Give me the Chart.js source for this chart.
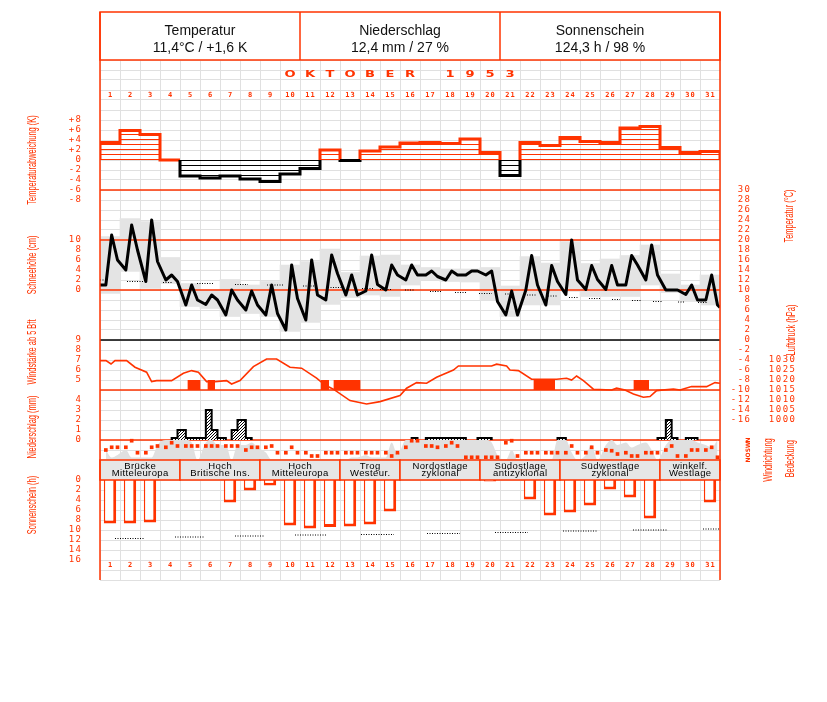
<!DOCTYPE html>
<html lang="de">
<head>
<meta charset="utf-8">
<title>Oktober 1953</title>
<script src="https://cdn.jsdelivr.net/npm/chart.js@4.4.1/dist/chart.umd.min.js"></script>
<style>
  html, body { margin: 0; padding: 0; background: #fff; }
  #wrap { position: relative; width: 827px; height: 702px; }
</style>
</head>
<body>
<div id="wrap"><canvas id="chart" width="827" height="702"></canvas></div>
<script>
const RED = '#ff3300';

// --- data ----------------------------------------------------------------
const days = ['1','2','3','4','5','6','7','8','9','10','11','12','13','14','15','16',
              '17','18','19','20','21','22','23','24','25','26','27','28','29','30','31'];
const obsHours = [7, 14, 21];

// Tagesmittel-Abweichung (K)
const devK = [3.5, 5.9, 5.1, 0, -3.2, -3.6, -3.2, -3.8, -4.3, -2.8, -1.7, 2.0, -0.1, 1.8, 2.6, 3.4,
              3.5, 3.3, 4.2, 1.5, -3.1, 3.5, 2.9, 4.5, 3.7, 3.5, 6.4, 6.7, 2.5, 1.5, 1.7];

// Temperatur (°C) zu den Terminen 7, 14, 21 Uhr
const temp07 = [11, 14, 11.7, 12, 7, 7.1, 5, 6, 5, 2, 4, 8, 9, 9.8, 10, 12,
                13, 12, 13, 13, 5, 10, 7, 9.1, 10.1, 10.1, 11, 12, 10, 9.1, 8];
const temp14 = [21, 23, 24, 13, 11, 9, 10, 9.8, 11, 15, 16, 17, 13, 17, 15, 15,
                13.8, 13.8, 13.8, 13.8, 9.8, 16.9, 14.9, 20, 14.9, 14.9, 16.9, 19, 10, 11, 13];
const temp21 = [16, 18, 15.7, 11.7, 8, 8, 8, 7, 5.3, 8.3, 9, 13.3, 9, 11.1, 13, 13,
                12.7, 13, 13.8, 7.7, 5, 11, 11.7, 12, 12.1, 11, 15, 13, 10, 8, 7];
const tempFirst = 11, tempLast = 6.5;

// Tagesminimum / -maximum (°C)
const tMin = [9.3, 13.7, 10.3, 11.3, 6.7, 6.3, 4.7, 5.3, 4.7, 1.7, 3.5, 7.1, 8.5, 9.0, 8.7, 11.0,
              12.0, 11.7, 11.6, 8.0, 4.7, 7.0, 7.0, 9.7, 8.7, 8.7, 8.7, 11.0, 9.5, 7.7, 7.0];
const tMax = [20.7, 24.3, 23.7, 16.5, 11.3, 10.0, 12.1, 11.0, 11.7, 15.0, 15.7, 18.2, 13.5, 16.8, 17.0, 15.0,
              14.5, 14.2, 14.2, 14.5, 10.8, 16.7, 15.4, 19.7, 15.3, 16.2, 16.9, 19.0, 13.2, 11.0, 13.0];

// Normalwerte Temperatur (Abschnitte)
const tNormFrom = [0, 1.35, 3.15, 4.85, 6.75, 8.35, 10.15, 11.4, 13.1, 14.0, 15.25, 16.5,
                   17.75, 18.95, 20.25, 21.35, 22.4, 23.45, 24.45, 25.6, 26.6, 27.65, 28.9, 29.9];
const tNormTo   = [0.25, 2.15, 3.65, 5.65, 7.4, 9.15, 10.85, 12.15, 13.65, 14.6, 15.75, 17.1,
                   18.35, 19.6, 20.75, 21.85, 22.9, 23.9, 25.0, 26.0, 27.1, 28.1, 29.25, 30.4];
const tNormVal  = [12.0, 11.7, 11.5, 11.3, 11.1, 11.0, 10.8, 10.5, 10.3, 10.1, 10.0, 9.7,
                   9.5, 9.3, 9.2, 9.0, 8.8, 8.5, 8.3, 8.1, 7.9, 7.7, 7.6, 7.5];

// Wind ab 5 Bft (Zeitabschnitte in Tagen)
const windFrom = [4.37, 5.37, 11.03, 11.67, 21.67, 26.67];
const windTo   = [5.03, 5.75, 11.45, 13.03, 22.75, 27.45];

// Luftdruck (hPa)
const pressT = [0, 0.3, 0.55, 0.75, 1.33, 1.75, 2.33, 2.58, 2.83, 3.58, 4.17, 4.58, 4.92, 5.33, 5.75,
                6.33, 6.58, 7.0, 7.67, 8.33, 8.83, 9.5, 10.08, 10.83, 11.25, 11.67, 12.5, 13.33, 14.0,
                15.0, 15.33, 15.83, 16.33, 16.83, 17.67, 17.92, 19.58, 19.83, 20.33, 20.5, 20.92, 21.58,
                22.83, 23.33, 23.58, 23.83, 24.17, 24.67, 25.58, 25.83, 26.25, 26.67, 27.17, 27.5, 27.83,
                28.67, 29.0, 29.58, 30.33, 30.75, 31];
const pressHpa = [1029.7, 1029.7, 1028, 1029.7, 1029.7, 1026.4, 1023.9, 1019.2, 1019.7, 1019.7, 1023.4,
                  1024.7, 1023.9, 1019.2, 1019.2, 1019.7, 1018, 1019.7, 1026.7, 1030.5, 1030.5, 1026.4,
                  1025.9, 1020.9, 1017.5, 1015.4, 1009.7, 1008, 1009.2, 1012.2, 1015.9, 1018.7, 1018.4,
                  1021.4, 1025, 1027, 1027, 1027.9, 1027, 1025, 1024.7, 1020.4, 1020.4, 1020.9, 1020,
                  1022, 1019.7, 1015.4, 1015, 1015.9, 1015, 1013, 1011.4, 1011.7, 1014.7, 1015.5, 1015,
                  1016.7, 1016.7, 1018.7, 1018.4];

// Niederschlag (mm) 7-14, 14-21, 21-7 Uhr
const rr07 = [0, 0, 0, 0, 0.2, 3.0, 0, 0.2, 0, 0, 0, 0, 0, 0, 0, 0,
              0.2, 0.2, 0, 0.2, 0, 0, 0, 0, 0, 0, 0, 0, 2.0, 0.2, 0];
const rr14 = [0, 0, 0, 0.2, 0.2, 1.0, 1.0, 0, 0, 0, 0, 0, 0, 0, 0, 0.2,
              0.2, 0.2, 0, 0, 0, 0, 0, 0, 0, 0, 0, 0, 0.2, 0.2, 0];
const rr21 = [0, 0, 0, 1.0, 0.2, 0.2, 2.0, 0, 0, 0, 0, 0, 0, 0, 0, 0,
              0.2, 0.2, 0.2, 0, 0, 0, 0.2, 0, 0, 0, 0, 0.2, 0, 0, 0];

// Bedeckung (Achtel) 7, 14, 21 Uhr
const cloud07 = [4, 4, 1, 8, 8, 7, 6, 6, 3, 0, 0, 0, 0, 2, 1, 8, 8, 8, 8, 8, 0, 0, 0, 8, 2, 6, 7, 7, 6, 8, 6];
const cloud14 = [1, 1, 1, 8, 7, 8, 0, 7, 0, 0, 0, 0, 1, 1, 7, 8, 8, 8, 8, 7, 4, 0, 0, 3, 6, 8, 5, 4, 8, 8, 5];
const cloud21 = [2, 1, 6, 8, 0, 6, 6, 5, 0, 0, 0, 0, 1, 1, 2, 8, 8, 8, 8, 2, 0, 0, 8, 0, 0, 6, 6, 0, 8, 7, 8];

// Windrichtung (Grad) 7, 14, 21 Uhr
const dir07 = [180, 229, 131, 229, 252, 252, 252, 180, 229, 131, 131, 131, 131, 131, 131, 229,
               252, 252, 49, 49, 311, 131, 131, 131, 131, 180, 131, 131, 180, 72, 180];
const dir14 = [229, 347, 229, 311, 252, 252, 252, 229, 252, 229, 72, 131, 131, 131, 72, 347,
               252, 311, 49, 49, 347, 131, 131, 252, 229, 167, 72, 131, 252, 180, 229];
const dir21 = [229, 131, 252, 252, 252, 252, 252, 229, 131, 131, 72, 131, 131, 131, 131, 347,
               229, 252, 49, 49, 72, 131, 131, 131, 131, 108, 72, 131, 72, 180, 49];

// Sonnenschein (h)
const sunH = [8.7, 8.7, 8.5, 0, 0, 0, 4.5, 2.1, 1.1, 9.1, 9.7, 9.4, 9.3, 8.9, 6.3, 0,
              0, 0, 0, 0.3, 0, 3.9, 7.1, 6.5, 5.1, 1.9, 3.5, 7.7, 0, 0, 4.5];
const sunNormFrom = [0.75, 3.75, 6.75, 9.75, 13.05, 16.35, 19.75, 23.15, 26.65, 30.15];
const sunNormTo   = [2.2, 5.2, 8.2, 11.3, 14.7, 18.0, 21.4, 24.9, 28.4, 31];
const sunNormVal  = [11.7, 11.4, 11.2, 11.0, 10.9, 10.7, 10.5, 10.2, 10.0, 9.8];

// Großwetterlagen
const wtFrom  = [1, 5, 9, 13, 16, 20, 24, 29];
const wtTo    = [4, 8, 12, 15, 19, 23, 28, 31];
const wtLine1 = ['Brücke', 'Hoch', 'Hoch', 'Trog', 'Nordostlage', 'Südostlage', 'Südwestlage', 'winkelf.'];
const wtLine2 = ['Mitteleuropa', 'Britische Ins.', 'Mitteleuropa', 'Westeur.', 'zyklonal', 'antizyklonal', 'zyklonal', 'Westlage'];

// Achsbeschriftungen
const devTicks = [8, 6, 4, 2, 0, -2, -4, -6, -8];
const devTickLabels = ['+8', '+6', '+4', '+2', '0', '-2', '-4', '-6', '-8'];
const snowTicks = [0, 2, 4, 6, 8, 10];
const windTicks = [5, 6, 7, 8, 9];
const rrTicks = [0, 1, 2, 3, 4];
const sunTicks = [0, 2, 4, 6, 8, 10, 12, 14, 16];
const tempTicks = [30, 28, 26, 24, 22, 20, 18, 16, 14, 12, 10, 8, 6, 4, 2, 0, -2, -4, -6, -8, -10, -12, -14, -16];
const pressTicks = [1030, 1025, 1020, 1015, 1010, 1005, 1000];
const dirTicks = [0, 90, 180, 270, 360];
const dirTickLabels = ['N', 'O', 'S', 'W', 'N'];

const header = [['Temperatur', '11,4°C / +1,6 K'], ['Niederschlag', '12,4 mm / 27 %'], ['Sonnenschein', '124,3 h / 98 %']];
const monthTitle = 'OKTOBER 1953';

// --- helpers ---------------------------------------------------------------
function makePattern(w, h, draw) {
  const c = document.createElement('canvas');
  c.width = w; c.height = h;
  const g = c.getContext('2d');
  draw(g);
  return g.createPattern(c, 'repeat');
}
const hatchRed = makePattern(1, 5, g => { g.fillStyle = RED; g.fillRect(0, 4, 1, 1); });
const hatchBlack = makePattern(1, 5, g => { g.fillStyle = '#000'; g.fillRect(0, 0, 1, 1); });
const hatchDiag = makePattern(3, 3, g => {
  g.fillStyle = '#fff'; g.fillRect(0, 0, 3, 3);
  g.fillStyle = '#000'; g.fillRect(0, 2, 1, 1); g.fillRect(1, 1, 1, 1); g.fillRect(2, 0, 1, 1);
});

function perObs(arrs) {
  const pts = [];
  days.forEach((_, i) => arrs.forEach((a, k) => pts.push({x: i + obsHours[k] / 24, y: a[i]})));
  return pts;
}

function devPoly(positive) {
  const pts = [];
  let open = false;
  devK.forEach((v, i) => {
    const inside = positive ? v >= 0 : v < 0;
    if (inside) {
      if (!open) { pts.push({x: i, y: 0}); open = true; }
      pts.push({x: i, y: v}, {x: i + 1, y: v});
    } else if (open) {
      pts.push({x: i, y: 0}, {x: i, y: null});
      open = false;
    }
  });
  if (open) pts.push({x: devK.length, y: 0});
  return pts;
}

function precipPoly() {
  const pts = [];
  let open = false, lastEnd = 0;
  days.forEach((_, i) => {
    [[rr07, 7, 14], [rr14, 14, 21], [rr21, 21, 31]].forEach(([arr, h0, h1]) => {
      const v = arr[i], s = i + h0 / 24, e = i + h1 / 24;
      if (v > 0) {
        if (!open) { pts.push({x: s, y: 0}); open = true; }
        pts.push({x: s, y: v}, {x: e, y: v});
        lastEnd = e;
      } else if (open) {
        pts.push({x: lastEnd, y: 0}, {x: lastEnd, y: null});
        open = false;
      }
    });
  });
  return pts;
}

function segments(from, to, val) {
  const pts = [];
  from.forEach((s, i) => pts.push({x: s, y: val[i]}, {x: to[i], y: val[i]}, {x: to[i], y: null}));
  return pts;
}

const tempPts = [{x: 0, y: tempFirst}].concat(perObs([temp07, temp14, temp21]), [{x: 31, y: tempLast}]);
const windPts = [];
windFrom.forEach((s, i) => windPts.push({x: s, y: 5}, {x: windTo[i], y: 5}, {x: windTo[i], y: null}));

function txt(ctx, str, x, y, o) {
  ctx.save();
  ctx.font = o.font;
  ctx.fillStyle = o.color || '#000';
  ctx.textBaseline = 'middle';
  ctx.textAlign = 'left';
  const sp = o.spacing || 0;
  const hasSp = 'letterSpacing' in ctx;
  if (hasSp) ctx.letterSpacing = sp + 'px';
  const w = ctx.measureText(str).width - (hasSp ? sp : 0);
  ctx.translate(x, y);
  if (o.rotate) ctx.rotate(o.rotate);
  ctx.scale(o.sx || 1, 1);
  const off = o.align === 'right' ? -w : (o.align === 'left' ? 0 : -w / 2);
  ctx.fillText(str, off, 0);
  ctx.restore();
}

function line(ctx, x1, y1, x2, y2, color, w) {
  ctx.save();
  ctx.strokeStyle = color; ctx.lineWidth = w;
  ctx.beginPath(); ctx.moveTo(x1, y1); ctx.lineTo(x2, y2); ctx.stroke();
  ctx.restore();
}

const tickFont = '9px "DejaVu Sans Mono"';
const titleFont = '12px "Liberation Sans"';

const sheetPlugin = {
  id: 'sheet',
  afterDatasetDraw(chart, args) {
    if (args.index !== 0) return;
    const {ctx, chartArea: ca, scales: s} = chart;
    [30, 20, 10].forEach(v => line(ctx, ca.left, s.yT.getPixelForValue(v), ca.right, s.yT.getPixelForValue(v), RED, 1.5));
    line(ctx, ca.left, s.yT.getPixelForValue(0), ca.right, s.yT.getPixelForValue(0), '#000', 1.5);
    line(ctx, ca.left, s.yP.getPixelForValue(1015), ca.right, s.yP.getPixelForValue(1015), RED, 1.5);
    line(ctx, ca.left, s.yPrec.getPixelForValue(0), ca.right, s.yPrec.getPixelForValue(0), RED, 1.5);
  },
  afterDraw(chart) {
    const {ctx, chartArea: ca, scales: s} = chart;
    const xt = s.xt, xd = s.xd;

    // Großwetterlagen-Leiste
    const sTop = s.yCloud.getPixelForValue(0), sBot = s.ySun.getPixelForValue(0);
    wtFrom.forEach((f, i) => {
      const x0 = xt.getPixelForValue(f - 1), x1 = xt.getPixelForValue(wtTo[i]);
      ctx.save();
      ctx.fillStyle = '#e6e6e6';
      ctx.fillRect(x0, sTop, x1 - x0, sBot - sTop);
      ctx.strokeStyle = RED; ctx.lineWidth = 1.5;
      ctx.strokeRect(x0, sTop, x1 - x0, sBot - sTop);
      ctx.restore();
      const cx = (x0 + x1) / 2;
      txt(ctx, wtLine1[i], cx, sTop + 6.5, {font: '9.5px "Liberation Sans"', spacing: 0.4});
      txt(ctx, wtLine2[i], cx, sTop + 13.5, {font: '9.5px "Liberation Sans"', spacing: 0.4});
    });

    // Kopf
    const hTop = 12;
    ctx.save();
    ctx.strokeStyle = RED; ctx.lineWidth = 1.5;
    ctx.strokeRect(ca.left, hTop, ca.right - ca.left, ca.top - hTop);
    [10, 20].forEach(d => line(ctx, xt.getPixelForValue(d), hTop, xt.getPixelForValue(d), ca.top, RED, 1.5));
    ctx.restore();
    header.forEach((h, i) => {
      const cx = xt.getPixelForValue(5 + i * 10);
      txt(ctx, h[0], cx, hTop + 19, {font: '14px "Liberation Sans"', color: '#111'});
      txt(ctx, h[1], cx, hTop + 36, {font: '14px "Liberation Sans"', color: '#111'});
    });

    // Monat
    const chars = monthTitle.split('');
    const mid = xt.getPixelForValue(15);
    chars.forEach((c, i) => {
      if (c !== ' ') txt(ctx, c, mid + (i - (chars.length - 1) / 2) * 20, ca.top + 15,
        {font: 'bold 9px "DejaVu Sans"', color: RED, sx: 1.45});
    });

    // Tageszahlen oben und unten
    days.forEach((d, i) => {
      const x = xd.getPixelForValue(i);
      txt(ctx, d, x, ca.top + 35, {font: 'bold 7px "DejaVu Sans Mono"', color: RED, spacing: 1.2});
      txt(ctx, d, x, ca.bottom - 15, {font: 'bold 7px "DejaVu Sans Mono"', color: RED, spacing: 1.2});
    });

    // linke Skalen
    const lx = ca.left - 19;
    [['yDev', devTicks, devTickLabels], ['ySnow', snowTicks, snowTicks], ['yWind', windTicks, windTicks],
     ['yPrec', rrTicks, rrTicks], ['ySun', sunTicks, sunTicks]].forEach(([id, vals, labs]) => {
      vals.forEach((v, i) => txt(ctx, String(labs[i]), lx, s[id].getPixelForValue(v),
        {font: tickFont, color: RED, align: 'right', spacing: 1.5}));
    });
    // rechte Skalen
    tempTicks.forEach(v => txt(ctx, String(v), ca.right + 30, s.yT.getPixelForValue(v),
      {font: tickFont, color: RED, align: 'right', spacing: 1.5}));
    pressTicks.forEach(v => txt(ctx, String(v), ca.right + 75, s.yP.getPixelForValue(v),
      {font: tickFont, color: RED, align: 'right', spacing: 1.5}));
    dirTicks.forEach((v, i) => txt(ctx, dirTickLabels[i], ca.right + 28, s.yDir.getPixelForValue(v),
      {font: 'bold 6px "DejaVu Sans"', color: RED, rotate: -Math.PI / 2}));

    // Achsentitel
    const rot = {font: titleFont, color: RED, rotate: -Math.PI / 2, sx: 0.62};
    txt(ctx, 'Temperaturabweichung (K)', ca.left - 67, s.yDev.getPixelForValue(0), rot);
    txt(ctx, 'Schneehöhe (cm)', ca.left - 67, s.ySnow.getPixelForValue(5), rot);
    txt(ctx, 'Windstärke ab 5 Bft', ca.left - 67, s.yWind.getPixelForValue(7.8), rot);
    txt(ctx, 'Niederschlag (mm)', ca.left - 67, s.yPrec.getPixelForValue(1.3), rot);
    txt(ctx, 'Sonnenschein (h)', ca.left - 67, s.ySun.getPixelForValue(5), rot);
    txt(ctx, 'Temperatur (°C)', ca.right + 70, s.yT.getPixelForValue(24.8), rot);
    txt(ctx, 'Luftdruck (hPa)', ca.right + 72, s.yP.getPixelForValue(1045), rot);
    txt(ctx, 'Windrichtung', ca.right + 49, s.yDir.getPixelForValue(0), rot);
    txt(ctx, 'Bedeckung', ca.right + 71, s.yCloud.getPixelForValue(0.5), rot);

    // Rahmen
    line(ctx, ca.left, hTop, ca.left, ca.bottom, RED, 1.5);
    line(ctx, ca.right, hTop, ca.right, ca.bottom, RED, 1.5);
  }
};

const hidden = (min, max, reverse) => ({type: 'linear', display: false, min, max, reverse: !!reverse});

new Chart(document.getElementById('chart'), {
  type: 'bar',
  data: {
    labels: days,
    datasets: [
      { // Tagesspanne
        type: 'bar', xAxisID: 'xd', yAxisID: 'yT', grouped: false,
        data: tMin.map((v, i) => [v, tMax[i]]),
        backgroundColor: '#e4e4e4', borderWidth: 0,
        barPercentage: 1, categoryPercentage: 1, order: 20
      },
      { // Bedeckung
        type: 'line', xAxisID: 'xt', yAxisID: 'yCloud',
        data: perObs([cloud07, cloud14, cloud21]),
        borderWidth: 0, borderColor: 'rgba(0,0,0,0)', backgroundColor: '#e0e0e0',
        fill: 'origin', pointRadius: 0, cubicInterpolationMode: 'monotone', order: 19
      },
      { // Abweichung positiv
        type: 'line', xAxisID: 'xt', yAxisID: 'yDev', data: devPoly(true),
        borderColor: RED, borderWidth: 3, backgroundColor: hatchRed, fill: 'origin',
        pointRadius: 0, order: 8
      },
      { // Abweichung negativ
        type: 'line', xAxisID: 'xt', yAxisID: 'yDev', data: devPoly(false),
        borderColor: '#000', borderWidth: 3, backgroundColor: hatchBlack, fill: 'origin',
        pointRadius: 0, order: 7
      },
      { // Niederschlag
        type: 'line', xAxisID: 'xt', yAxisID: 'yPrec', data: precipPoly(),
        borderColor: '#000', borderWidth: 2, backgroundColor: hatchDiag, fill: 'origin',
        pointRadius: 0, order: 8
      },
      { // Normaltemperatur
        type: 'line', xAxisID: 'xt', yAxisID: 'yT', data: segments(tNormFrom, tNormTo, tNormVal),
        borderColor: '#000', borderWidth: 1, borderDash: [1, 1.5], pointRadius: 0, order: 6
      },
      { // Wind ab 5 Bft
        type: 'line', xAxisID: 'xt', yAxisID: 'yWind', data: windPts,
        borderColor: 'rgba(0,0,0,0)', borderWidth: 0, backgroundColor: RED, fill: {value: 4},
        pointRadius: 0, order: 5
      },
      { // Luftdruck
        type: 'line', xAxisID: 'xt', yAxisID: 'yP',
        data: pressT.map((t, i) => ({x: t, y: pressHpa[i]})),
        borderColor: RED, borderWidth: 1.6, pointRadius: 0, order: 4
      },
      { // Sonnenschein
        type: 'bar', xAxisID: 'xd', yAxisID: 'ySun', grouped: false, data: sunH,
        backgroundColor: '#fff', borderColor: RED,
        borderWidth: {left: 1.5, right: 3, bottom: 3, top: 0},
        barPercentage: 0.62, categoryPercentage: 1, order: 4
      },
      { // mögliche Sonnenscheindauer
        type: 'line', xAxisID: 'xt', yAxisID: 'ySun', data: segments(sunNormFrom, sunNormTo, sunNormVal),
        borderColor: '#000', borderWidth: 1, borderDash: [1, 1.5], pointRadius: 0, order: 3
      },
      { // Temperatur
        type: 'line', xAxisID: 'xt', yAxisID: 'yT', data: tempPts,
        borderColor: '#000', borderWidth: 3, pointRadius: 0, borderJoinStyle: 'round', order: 2
      },
      { // Windrichtung
        type: 'line', xAxisID: 'xt', yAxisID: 'yDir', data: perObs([dir07, dir14, dir21]),
        showLine: false, pointStyle: 'rect', pointRadius: 2.6, pointBorderWidth: 0,
        pointBackgroundColor: RED, borderColor: RED, order: 1
      }
    ]
  },
  options: {
    responsive: false,
    animation: false,
    devicePixelRatio: 1,
    events: [],
    layout: {padding: {left: 100, right: 107, top: 60, bottom: 122}},
    plugins: {legend: {display: false}, tooltip: {enabled: false}},
    scales: {
      xd: {type: 'category', display: false, offset: true},
      xt: {
        type: 'linear', min: 0, max: 31, position: 'bottom', offset: false,
        ticks: {display: false}, border: {display: false},
        grid: {color: '#e0e0e0', lineWidth: 1, drawTicks: false, offset: false},
        afterBuildTicks: sc => { sc.ticks = days.map((d, i) => ({value: i})).concat([{value: 31}]); },
        afterFit: sc => { sc.height = 0; }
      },
      yT: {
        type: 'linear', min: -48, max: 56, position: 'left',
        ticks: {display: false}, border: {display: false},
        grid: {color: '#e0e0e0', lineWidth: 1, drawTicks: false},
        afterBuildTicks: sc => {
          const t = [];
          for (let v = -48; v <= 56; v += 2) t.push({value: v});
          sc.ticks = t;
        },
        afterFit: sc => { sc.width = 0; }
      },
      yDev: hidden(-84, 20),
      ySnow: hidden(-58, 46),
      yWind: hidden(-15, 37),
      yP: hidden(920, 1180),
      yPrec: hidden(-14, 38),
      yCloud: hidden(-48, 160),
      yDir: hidden(-2160, 7200),
      ySun: hidden(-84, 20, true)
    }
  },
  plugins: [sheetPlugin]
});
</script>
</body>
</html>
